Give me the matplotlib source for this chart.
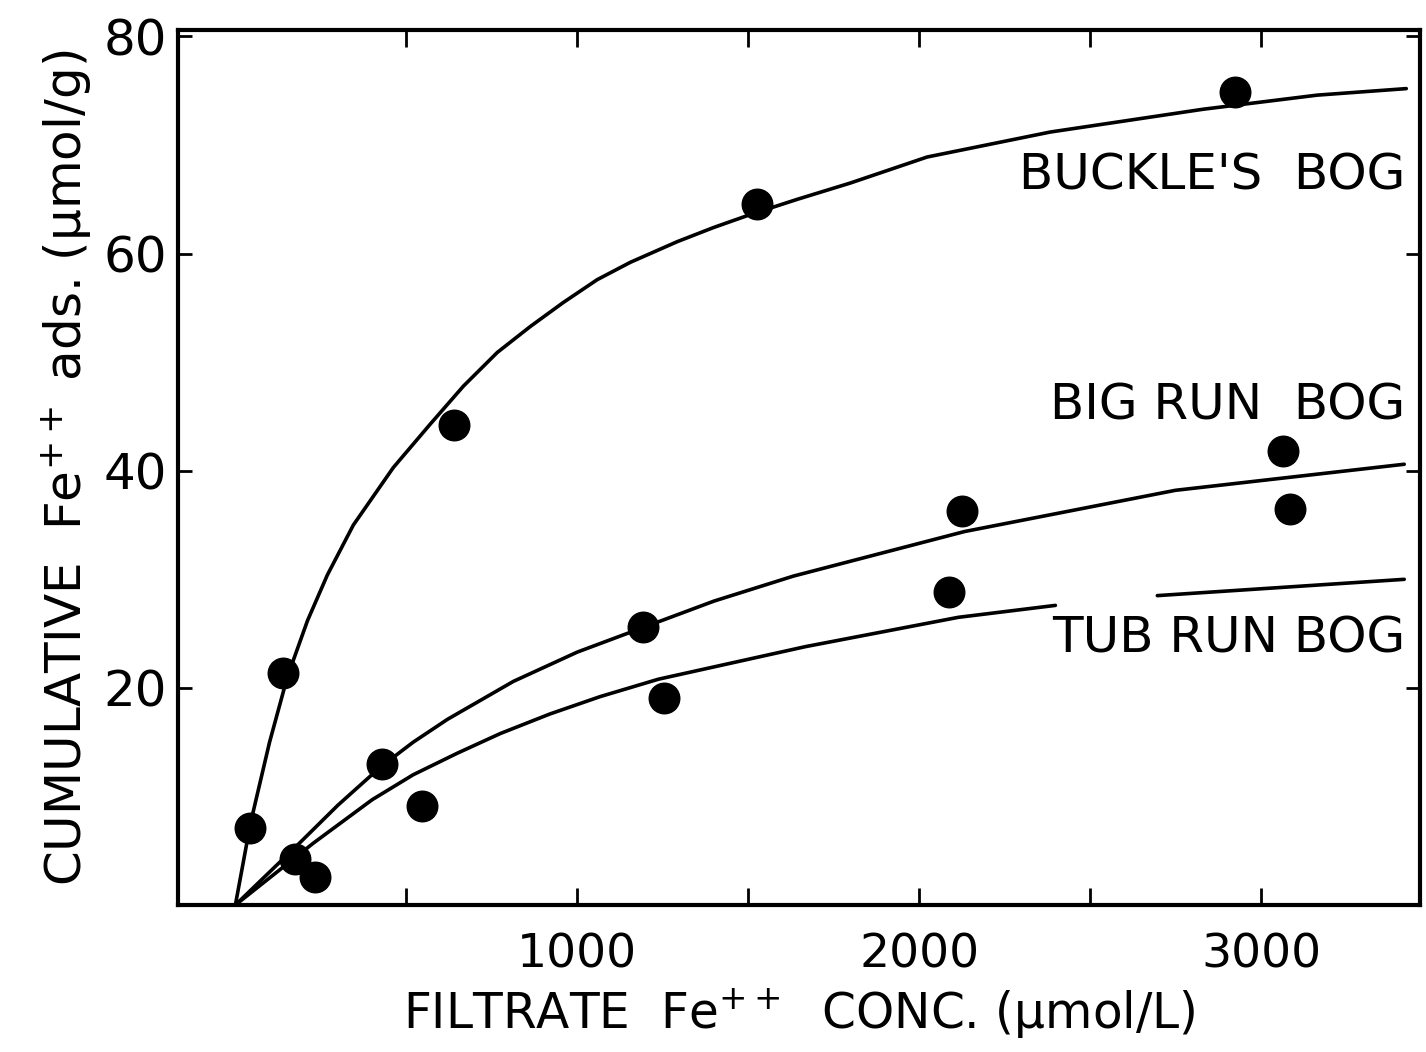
import numpy as np
import matplotlib.pyplot as plt

# fitted curves
buckle_cx = [0, 20, 44, 100, 152, 211, 269, 345, 462, 570, 667, 766, 863, 959, 1058,
             1155, 1292, 1398, 1506, 1643, 1798, 2023, 2383, 2830, 3164, 3424]
buckle_cy = [0, 3.4, 7.5, 15.0, 21.0, 26.2, 30.4, 35.0, 40.3, 44.3, 47.8, 50.9, 53.3, 55.5, 57.6,
             59.2, 61.1, 62.4, 63.6, 65.0, 66.5, 68.9, 71.2, 73.3, 74.6, 75.2]

bigrun_cx = [0, 181, 300, 424, 520, 620, 813, 1000, 1187, 1400, 1632, 2132, 2749, 3418]
bigrun_cy = [0, 5.5, 9.2, 12.7, 15.0, 17.1, 20.6, 23.3, 25.5, 28.0, 30.3, 34.4, 38.2, 40.6]

# tub run line has a break above the label
tubrun_cx = [0, 228, 400, 520, 650, 775, 920, 1067, 1237, 1667, 2114, 2398, np.nan, 2696, 3418]
tubrun_cy = [0, 5.7, 9.7, 12.0, 14.0, 15.8, 17.6, 19.2, 20.8, 23.8, 26.5, 27.6, np.nan, 28.5, 30.0]

# measured points
buckle_x = [44, 140, 640, 1526, 2924]
buckle_y = [7.1, 21.4, 44.2, 64.6, 74.9]
bigrun_x = [175, 430, 1193, 2126, 3064, 3085]
bigrun_y = [4.2, 13.0, 25.6, 36.3, 41.8, 36.5]
tubrun_x = [234, 547, 1254, 2088]
tubrun_y = [2.6, 9.1, 19.1, 28.8]

xticks = [500, 1000, 1500, 2000, 2500, 3000]
xticklabels = ["", "1000", "", "2000", "", "3000"]
yticks = [20, 40, 60, 80]
yticklabels = ["20", "40", "60", "80"]

plt.rcParams['font.family'] = 'DejaVu Sans'

fig = plt.figure(figsize=(14.26, 10.52), dpi=100)
ax = fig.add_axes([0.125, 0.1397, 0.871, 0.8318])

for cx, cy in [(buckle_cx, buckle_cy), (bigrun_cx, bigrun_cy), (tubrun_cx, tubrun_cy)]:
    ax.plot(cx, cy, color="black", lw=2.6, solid_capstyle="round", solid_joinstyle="round")

for px, py in [(buckle_x, buckle_y), (bigrun_x, bigrun_y), (tubrun_x, tubrun_y)]:
    ax.plot(px, py, "o", color="black", ms=22, ls="none")

ax.set_xlim(-167, 3465)
ax.set_ylim(0, 80.6)

ax.set_xticks(xticks)
ax.set_xticklabels(xticklabels)
ax.set_yticks(yticks)
ax.set_yticklabels(yticklabels)

ax.tick_params(axis="x", direction="in", length=12, width=2, top=True,
               labelsize=34, pad=20)
ax.tick_params(axis="y", direction="in", length=10, width=2, right=True,
               labelsize=36, pad=8)
for s in ax.spines.values():
    s.set_linewidth(3)

ax.set_xlabel("FILTRATE  Fe$^{++}$  CONC. (μmol/L)", fontsize=35, labelpad=6)
ax.set_ylabel("CUMULATIVE  Fe$^{++}$ ads. (μmol/g)", fontsize=36, labelpad=6)

ax.text(0.988, 0.834, "BUCKLE'S  BOG", transform=ax.transAxes, ha="right",
        va="center", fontsize=36)
ax.text(0.988, 0.571, "BIG RUN  BOG", transform=ax.transAxes, ha="right",
        va="center", fontsize=36)
ax.text(0.988, 0.305, "TUB RUN BOG", transform=ax.transAxes, ha="right",
        va="center", fontsize=36)

plt.savefig("out.png", dpi=100)
